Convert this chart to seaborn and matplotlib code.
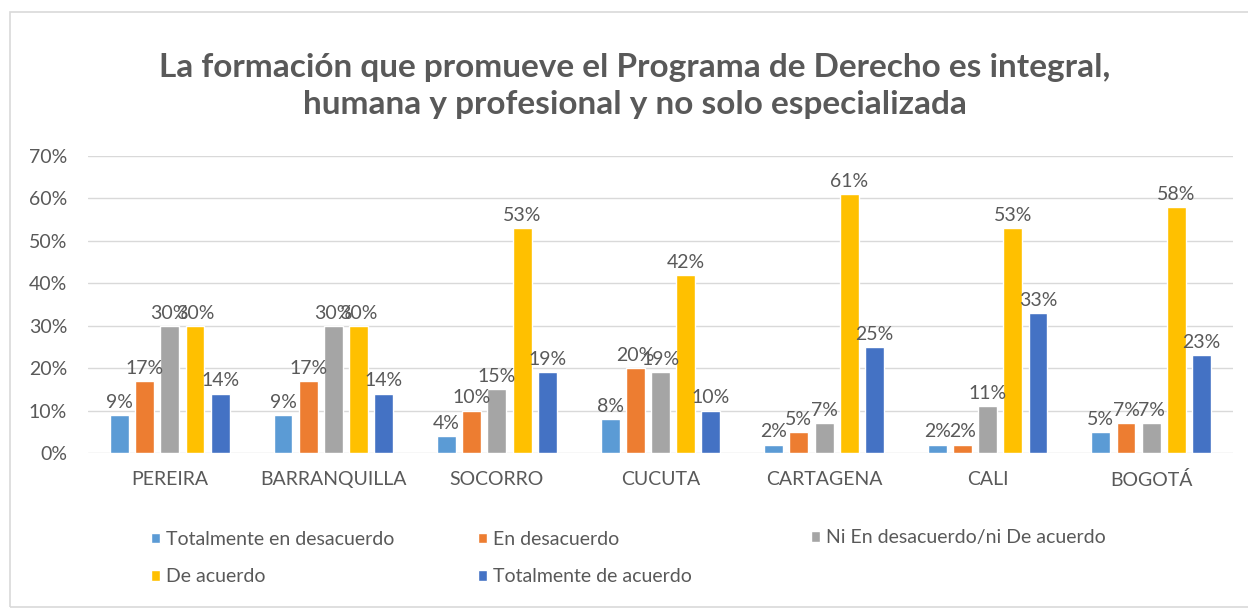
import matplotlib
matplotlib.use("Agg")
import matplotlib.pyplot as plt
import seaborn as sns
import pandas as pd
from matplotlib.patches import Rectangle
from matplotlib.ticker import PercentFormatter

categories = ["PEREIRA", "BARRANQUILLA", "SOCORRO", "CUCUTA", "CARTAGENA", "CALI", "BOGOTÁ"]
series = ["Totalmente en desacuerdo", "En desacuerdo", "Ni En desacuerdo/ni De acuerdo",
          "De acuerdo", "Totalmente de acuerdo"]
totalmente_desacuerdo = [9, 9, 4, 8, 2, 2, 5]
en_desacuerdo = [17, 17, 10, 20, 5, 2, 7]
ni_ni = [30, 30, 15, 19, 7, 11, 7]
de_acuerdo = [30, 30, 53, 42, 61, 53, 58]
totalmente_acuerdo = [14, 14, 19, 10, 25, 33, 23]
colors = ["#5B9BD5", "#ED7D31", "#A5A5A5", "#FFC000", "#4472C4"]

values = [totalmente_desacuerdo, en_desacuerdo, ni_ni, de_acuerdo, totalmente_acuerdo]
rows = []
for s, vals in zip(series, values):
    for c, v in zip(categories, vals):
        rows.append({"cat": c, "series": s, "val": v / 100})
df = pd.DataFrame(rows)

sns.set_theme(style="white")
plt.rcParams["font.family"] = ["Lato", "DejaVu Sans"]
TXT = "#595959"

W, H = 1248, 612
fig = plt.figure(figsize=(W / 100, H / 100), dpi=100)
ax = fig.add_axes([88 / W, 1 - 453 / H, (1233 - 88) / W, (453 - 156) / H])

sns.barplot(data=df, x="cat", y="val", hue="series", hue_order=series, order=categories,
            palette=colors, saturation=1, width=0.77, gap=0.25, ax=ax, legend=True,
            errorbar=None)

handles, labels = ax.get_legend_handles_labels()
ax.get_legend().remove()

for cont in ax.containers:
    ax.bar_label(cont, labels=[f"{round(b.get_height() * 100)}%" for b in cont],
                 padding=3, color=TXT, fontsize=14)

ax.set_ylim(0, 0.7)
ax.set_yticks([i / 10 for i in range(8)])
ax.yaxis.set_major_formatter(PercentFormatter(1.0, decimals=0))
ax.set_xlabel("")
ax.set_ylabel("")
ax.grid(axis="y", color="#D9D9D9", linewidth=1)
ax.set_axisbelow(True)
for sp in ax.spines.values():
    sp.set_visible(False)
ax.tick_params(axis="y", length=0, pad=15, labelcolor=TXT, labelsize=14)
ax.tick_params(axis="x", length=0, pad=13, labelcolor=TXT, labelsize=14)

fig.text(635 / W, 1 - 86 / H, "La formación que promueve el Programa de Derecho es integral,\n"
         "humana y profesional y no solo especializada",
         ha="center", va="center", fontsize=24, fontweight="bold", color=TXT,
         linespacing=1.3)

# chart border
fig.patches.append(Rectangle((10 / W, 1 - 607 / H), 1.0, (607 - 12) / H,
                             transform=fig.transFigure, fill=False,
                             edgecolor="#D9D9D9", linewidth=1.2))

common = dict(frameon=False, fontsize=14, handlelength=0.45, handleheight=0.45,
              handletextpad=0.3, borderpad=0, borderaxespad=0, labelspacing=1.05,
              labelcolor=TXT)
leg1 = fig.legend([handles[0], handles[3]], [labels[0], labels[3]], loc="center left",
                  bbox_to_anchor=(151 / W, 1 - 558 / H), **common)
leg2 = fig.legend([handles[1], handles[4]], [labels[1], labels[4]], loc="center left",
                  bbox_to_anchor=(478 / W, 1 - 558 / H), **common)
leg3 = fig.legend([handles[2]], [labels[2]], loc="center left",
                  bbox_to_anchor=(811 / W, 1 - 538 / H), **common)

fig.savefig("out.png", dpi=100, facecolor="white")
